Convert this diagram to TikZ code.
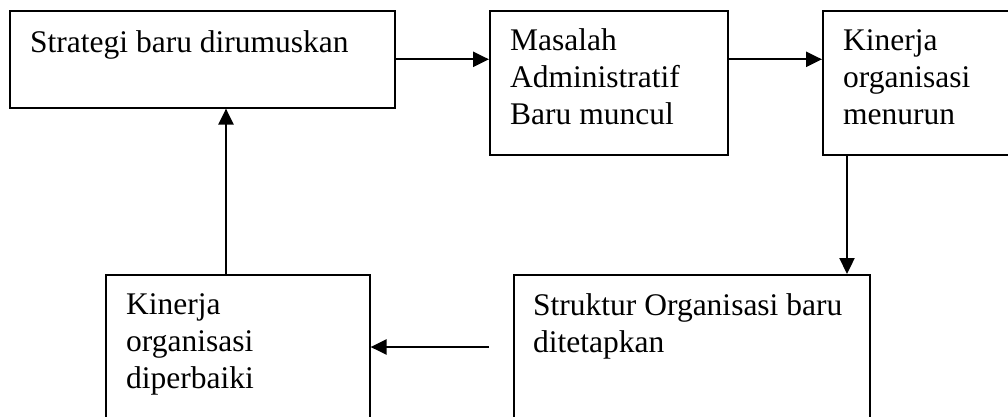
\documentclass[tikz,border=0pt]{standalone}
\usepackage{fontspec}
\setmainfont{Liberation Serif}
\usetikzlibrary{arrows.meta,calc}
\begin{document}
\begin{tikzpicture}[x=1pt,y=-1pt,
  box/.style={draw=black,line width=1.6pt,rectangle,inner sep=0pt,anchor=north west},
  lbl/.style={anchor=base west,inner sep=0pt,align=left,font=\fontsize{31.5}{37}\selectfont},
  arr/.style={line width=2.3pt,-{Triangle[length=16pt,width=15pt]}}]
\useasboundingbox (0,0) rectangle (1008,416);
\clip (0,0) rectangle (1008,416);
\fill[white] (0,0) rectangle (1008,416);
% boxes
\node[box,minimum width=385pt,minimum height=97pt] (b1) at (9,10) {};
\node[box,minimum width=238pt,minimum height=144pt] (b2) at (489,10) {};
\node[box,minimum width=200pt,minimum height=144pt] (b3) at (822,10) {};
\node[box,minimum width=264pt,minimum height=170pt] (b4) at (105,274) {};
\node[box,minimum width=356pt,minimum height=170pt] (b5) at (513,274) {};
% texts (base anchor = baseline of the last line)
\node[lbl] (t1) at (30,52) {Strategi baru dirumuskan};
\node[lbl] (t2) at (510,124) {Masalah\\Administratif\\Baru muncul};
\node[lbl] (t3) at (843,124) {Kinerja\\organisasi\\menurun};
\node[lbl] (t4) at (126,388) {Kinerja\\organisasi\\diperbaiki};
\node[lbl] (t5) at (533,352) {Struktur Organisasi baru\\ditetapkan};
% connectors
\draw[arr] (b1.east) -- (b1.east -| b2.west);
\draw[arr] (b2.east |- b1.east) -- (b3.west |- b1.east);
\coordinate (d3) at ($(b3.south west)+(25,0)$);
\draw[arr] (d3) -- (d3 |- b5.north);
\coordinate (s5) at ($(b5.north west)+(-24,73)$);
\draw[arr] (s5) -- (s5 -| b4.east);
\coordinate (u4) at ($(b4.north west)+(121,0)$);
\draw[arr] (u4) -- (u4 |- b1.south);
\end{tikzpicture}
\end{document}
